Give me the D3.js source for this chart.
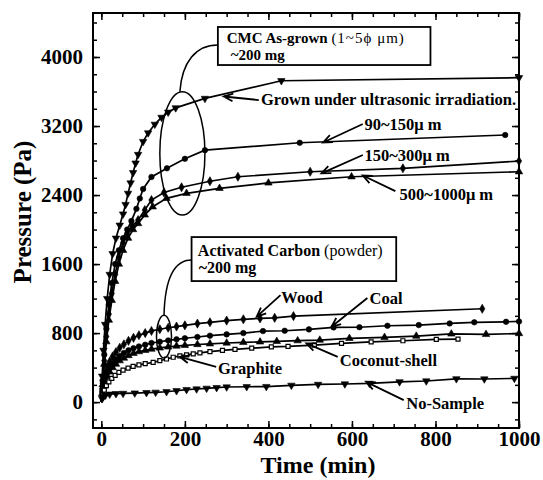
<!DOCTYPE html>
<html>
<head>
<meta charset="utf-8">
<script src="https://cdn.jsdelivr.net/npm/d3@7"></script>
<style>
  body { margin: 0; background: #fff; }
  text, tspan { font-family: "Liberation Serif", "Times New Roman", serif; font-weight: bold; fill: #000; }
  .axis text { font-size: 21px; }
  .axis line { stroke: #000; stroke-width: 1.5px; }
  .axis path { display: none; }
</style>
</head>
<body>
<div id="chart"></div>
<script>
// [time (min), pressure (Pa)]
var ultrasonic = [[0,0],[2,300],[5,600],[9,900],[14,1200],[20,1480],[27,1720],[35,1900],[44,2050],[52,2180],[58,2290],[64,2420],[70,2540],[76,2660],[82,2770],[88,2870],[100,3020],[112,3120],[128,3220],[144,3300],[160,3360],[178,3410],[248,3520],[431,3725],[1000,3760]];
var r90_150 = [[0,0],[3,250],[7,550],[12,850],[18,1130],[25,1380],[33,1600],[42,1760],[52,1900],[62,2000],[72,2100],[84,2240],[92,2360],[100,2470],[120,2610],[157,2710],[200,2820],[248,2920],[475,3006],[967,3096]];
var r150_300 = [[0,0],[3,220],[7,480],[12,760],[18,1020],[25,1260],[33,1480],[42,1680],[52,1850],[62,1960],[74,2040],[88,2110],[104,2226],[120,2342],[150,2430],[192,2490],[260,2560],[327,2612],[500,2670],[722,2710],[1000,2794]];
var r500_1000 = [[0,0],[3,200],[7,440],[12,700],[18,950],[25,1180],[33,1400],[42,1600],[52,1760],[64,1900],[76,2000],[88,2070],[104,2170],[123,2264],[156,2362],[204,2420],[283,2478],[400,2540],[599,2612],[1000,2670]];
var wood = [[0,0],[2,150],[5,260],[9,340],[14,410],[20,470],[27,530],[35,580],[44,630],[54,670],[65,710],[77,745],[90,775],[105,800],[120,825],[140,845],[160,862],[180,876],[200,890],[230,910],[260,925],[300,945],[340,960],[380,970],[415,977],[460,997],[912,1082]];
var coal = [[0,0],[2,120],[5,210],[9,280],[14,340],[20,400],[27,450],[35,495],[44,535],[54,570],[65,600],[77,625],[90,645],[105,665],[120,685],[140,700],[160,715],[180,728],[200,740],[230,755],[260,770],[300,785],[340,800],[387,823],[439,827],[497,843],[556,866],[618,868],[685,885],[760,893],[834,912],[893,925],[969,931],[1000,935]];
var coconut = [[0,0],[2,100],[5,180],[9,240],[14,300],[20,350],[27,400],[35,440],[44,480],[54,510],[65,540],[77,565],[90,585],[105,600],[120,615],[140,628],[160,640],[180,650],[200,658],[230,668],[260,676],[300,685],[340,692],[380,698],[420,704],[470,712],[523,719],[594,739],[678,750],[754,765],[838,790],[921,785],[1000,795]];
var graphite = [[0,0],[3,80],[7,140],[12,190],[18,235],[25,275],[33,310],[42,345],[52,370],[64,395],[76,415],[90,432],[105,445],[124,460],[140,480],[156,500],[172,520],[188,535],[204,548],[220,560],[236,570],[260,585],[290,600],[320,612],[360,625],[407,641],[447,645],[510,660],[575,680],[646,699],[722,711],[802,727],[854,730]];
var noSample = [[0,0],[2,40],[5,65],[10,80],[20,92],[35,98],[52,101],[80,105],[108,110],[130,114],[156,120],[180,132],[204,145],[228,152],[252,160],[276,168],[300,175],[348,178],[395,180],[455,195],[519,205],[583,210],[642,217],[714,235],[778,245],[850,270],[917,268],[989,275]];

var xTicks = [0, 200, 400, 600, 800, 1000];
var yTicks = [0, 800, 1600, 2400, 3200, 4000];

var series = [
  { data: ultrasonic, sym: "down" },
  { data: r90_150, sym: "circle" },
  { data: r150_300, sym: "diamond" },
  { data: r500_1000, sym: "up" },
  { data: wood, sym: "diamond" },
  { data: coal, sym: "circle" },
  { data: coconut, sym: "up" },
  { data: graphite, sym: "square" },
  { data: noSample, sym: "down" }
];

// labels with arrows, positions in data units
var labels = [
  { text: "Grown under ultrasonic irradiation.", at: [382, 3443], from: [377, 3501], to: [293, 3542] },
  { text: "90~150\u03bc m", at: [630, 3154], from: [626, 3223], to: [531, 3009] },
  { text: "150~300\u03bc m", at: [630, 2794], from: [626, 2864], to: [527, 2652] },
  { text: "500~1000\u03bc m", at: [714, 2342], from: [704, 2446], to: [626, 2626] },
  { text: "Wood", at: [431, 1148], from: [429, 1241], to: [372, 990] },
  { text: "Coal", at: [642, 1136], from: [637, 1206], to: [551, 873] },
  { text: "Coconut-shell", at: [571, 417], from: [566, 525], to: [491, 681] },
  { text: "Graphite", at: [279, 325], from: [275, 409], to: [188, 525] },
  { text: "No-Sample", at: [730, -81], from: [724, 23], to: [634, 235] }
];

var width = 543, height = 480;
var x = d3.scaleLinear().domain([-20, 1000]).range([93, 519]);
var y = d3.scaleLinear().domain([-300, 4510]).range([428, 13]);

var svg = d3.select("#chart").append("svg")
  .attr("width", width).attr("height", height);

// axes with inward ticks
function minor(step, lo, hi) {
  var a = [];
  for (var v = lo; v <= hi; v += step) a.push(v);
  return a;
}
var xMinor = minor(50, 0, 1000), yMinor = minor(200, -200, 4400);

svg.append("g").attr("class", "axis").attr("transform", "translate(0,428)")
  .call(d3.axisBottom(x).tickValues(xMinor).tickSize(-4).tickFormat(""));
svg.append("g").attr("class", "axis").attr("transform", "translate(0,428)")
  .call(d3.axisBottom(x).tickValues(xTicks).tickSize(-7).tickPadding(3).tickFormat(d3.format("d")));
svg.append("g").attr("class", "axis").attr("transform", "translate(0,13)")
  .call(d3.axisTop(x).tickValues(xMinor).tickSize(-4).tickFormat(""));
svg.append("g").attr("class", "axis").attr("transform", "translate(0,13)")
  .call(d3.axisTop(x).tickValues(xTicks).tickSize(-7).tickFormat(""));
svg.append("g").attr("class", "axis").attr("transform", "translate(93,0)")
  .call(d3.axisLeft(y).tickValues(yMinor).tickSize(-4).tickFormat(""));
svg.append("g").attr("class", "axis").attr("transform", "translate(93,0)")
  .call(d3.axisLeft(y).tickValues(yTicks).tickSize(-7).tickPadding(10).tickFormat(d3.format("d")));
svg.append("g").attr("class", "axis").attr("transform", "translate(519,0)")
  .call(d3.axisRight(y).tickValues(yMinor).tickSize(-4).tickFormat(""));
svg.append("g").attr("class", "axis").attr("transform", "translate(519,0)")
  .call(d3.axisRight(y).tickValues(yTicks).tickSize(-7).tickFormat(""));

// frame
svg.append("rect").attr("x", 93).attr("y", 13).attr("width", 426).attr("height", 415)
  .style("fill", "none").style("stroke", "#000").style("stroke-width", 2);

// axis titles
svg.append("text").attr("x", 318).attr("y", 473).attr("text-anchor", "middle")
  .style("font-size", "24px").text("Time (min)");
svg.append("text").attr("transform", "translate(31,212) rotate(-90)").attr("text-anchor", "middle")
  .style("font-size", "25px").text("Pressure (Pa)");

// curves
var line = d3.line().x(function(d) { return x(d[0]); }).y(function(d) { return y(d[1]); });
var plot = svg.append("g");
series.forEach(function(s) {
  plot.append("path").datum(s.data).attr("d", line)
    .style("fill", "none").style("stroke", "#000").style("stroke-width", 1.7);
});
var symType = { down: d3.symbolTriangle, up: d3.symbolTriangle, circle: d3.symbolCircle, diamond: d3.symbolDiamond, square: d3.symbolSquare };
series.forEach(function(s) {
  var sym = d3.symbol().type(symType[s.sym]).size(s.sym == "square" ? 16 : 24);
  plot.selectAll(null).data(s.data.filter(function(d) { return d[0] > 0; })).enter().append("path")
    .attr("d", sym)
    .attr("transform", function(d) {
      return "translate(" + x(d[0]) + "," + y(d[1]) + ")" + (s.sym == "down" ? " rotate(180)" : "");
    })
    .style("fill", s.sym == "square" ? "#fff" : "#000")
    .style("stroke", "#000").style("stroke-width", s.sym == "square" ? 1.2 : 0.6);
});

// arrows and labels
function arrow(from, to) {
  var x1 = x(from[0]), y1 = y(from[1]), x2 = x(to[0]), y2 = y(to[1]);
  var a = Math.atan2(y2 - y1, x2 - x1), L = 10, w = 0.4;
  svg.append("path")
    .attr("d", "M" + x1 + "," + y1 + "L" + x2 + "," + y2 +
      "M" + (x2 - L * Math.cos(a - w)) + "," + (y2 - L * Math.sin(a - w)) + "L" + x2 + "," + y2 +
      "L" + (x2 - L * Math.cos(a + w)) + "," + (y2 - L * Math.sin(a + w)))
    .style("fill", "none").style("stroke", "#000").style("stroke-width", 1.8);
}
labels.forEach(function(l) {
  arrow(l.from, l.to);
  svg.append("text").attr("x", x(l.at[0])).attr("y", y(l.at[1]))
    .style("font-size", "16.5px").text(l.text);
});

// group boxes, leaders and ellipses
function box(t0, t1, p0, p1) {
  svg.append("rect").attr("x", x(t0)).attr("y", y(p0)).attr("width", x(t1) - x(t0)).attr("height", y(p1) - y(p0))
    .style("fill", "#fff").style("stroke", "#000").style("stroke-width", 1.8);
}
function leader(pts) {
  svg.append("path")
    .attr("d", "M" + x(pts[0][0]) + "," + y(pts[0][1]) + "C" + pts.slice(1).map(function(p) { return x(p[0]) + "," + y(p[1]); }).join(" "))
    .style("fill", "none").style("stroke", "#000").style("stroke-width", 1.5);
}
function ring(t, p, rt, rp) {
  svg.append("ellipse").attr("cx", x(t)).attr("cy", y(p))
    .attr("rx", x(t + rt) - x(t)).attr("ry", y(p) - y(p + rp))
    .style("fill", "none").style("stroke", "#000").style("stroke-width", 1.5);
}

box(279, 788, 4348, 3907);
var t1 = svg.append("text").attr("x", x(300)).attr("y", y(4162)).style("font-size", "15px");
t1.append("tspan").text("CMC As-grown ");
t1.append("tspan").style("font-weight", "normal").style("fill", "#000").style("letter-spacing", "1px").text("(1~5\u03d5 \u03bcm)");
svg.append("text").attr("x", x(310)).attr("y", y(3965)).style("font-size", "15px").text("~200 mg");
leader([[279, 4139], [226, 4139], [193, 3942], [188, 3598]]);
ring(194, 2883, 54, 715);

box(216, 706, 1913, 1403);
var t2 = svg.append("text").attr("x", x(231)).attr("y", y(1693)).style("font-size", "16px");
t2.append("tspan").text("Activated Carbon ");
t2.append("tspan").style("font-weight", "normal").style("fill", "#000").text("(powder)");
svg.append("text").attr("x", x(233)).attr("y", y(1496)).style("font-size", "16px").text("~200 mg");
leader([[216, 1646], [169, 1646], [152, 1357], [150, 1009]]);
ring(150, 759, 18, 249);
</script>
</body>
</html>
